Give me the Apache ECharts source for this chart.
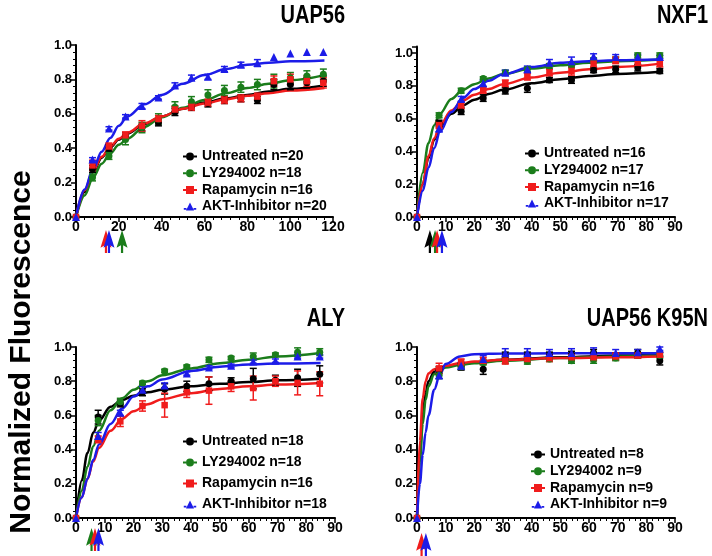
<!DOCTYPE html>
<html><head><meta charset="utf-8">
<script src="https://cdn.jsdelivr.net/npm/echarts@6/dist/echarts.min.js"></script>
<style>html,body{margin:0;padding:0;background:#fff}#c{width:712px;height:556px}</style>
</head><body><div id="c"></div>
<script>
// ---------- DATA ----------
const groups = ['Untreated', 'LY294002', 'Rapamycin', 'AKT-Inhibitor'];
const panelTitles = ['UAP56', 'NXF1', 'ALY', 'UAP56 K95N'];
const nUAP56 = [20, 18, 16, 20];
const nNXF1 = [16, 17, 16, 17];
const nALY = [18, 18, 16, 18];
const nK95N = [8, 9, 9, 9];

const timeLong = [0, 7.7, 15.4, 23.1, 30.8, 38.5, 46.2, 53.9, 61.6, 69.3, 77, 84.7, 92.4, 100.1, 107.8, 115.5];
const timeShort = [0, 7.7, 15.4, 23.1, 30.8, 38.5, 46.2, 53.9, 61.6, 69.3, 77, 84.7];

// UAP56
const uapUnt  = [0, 0.28, 0.40, 0.47, 0.52, 0.55, 0.61, 0.64, 0.66, 0.68, 0.69, 0.68, 0.77, 0.77, 0.78, 0.79];
const uapLY   = [0, 0.23, 0.355, 0.45, 0.52, 0.57, 0.64, 0.67, 0.71, 0.735, 0.755, 0.77, 0.79, 0.81, 0.82, 0.83];
const uapRapa = [0, 0.30, 0.41, 0.475, 0.53, 0.57, 0.625, 0.64, 0.665, 0.68, 0.69, 0.70, 0.79, 0.80, 0.79, 0.78];
const uapAKT  = [0, 0.335, 0.515, 0.585, 0.645, 0.695, 0.765, 0.81, 0.815, 0.86, 0.885, 0.895, 0.93, 0.95, 0.96, 0.96];
const uapUntErr  = [0, 0.02, 0.02, 0.02, 0.02, 0.02, 0.02, 0.02, 0.02, 0.02, 0.02, 0.02, 0.03, 0.03, 0.03, 0.03];
const uapLYErr   = [0, 0.02, 0.02, 0.03, 0.03, 0.03, 0.03, 0.03, 0.03, 0.03, 0.03, 0.03, 0.04, 0.03, 0.03, 0.03];
const uapRapaErr = [0, 0.03, 0.02, 0.02, 0.03, 0.02, 0.02, 0.02, 0.02, 0.02, 0.02, 0.02, 0.03, 0.03, 0.03, 0.03];
const uapAKTErr  = [0, 0.01, 0.01, 0.01, 0.015, 0.01, 0.015, 0.015, 0.015, 0.015, 0.015, 0.02, 0, 0, 0, 0];
const uapFitX    = [0, 4, 8, 12, 16, 20, 24, 32, 40, 50, 60, 70, 80, 90, 100, 116];
const uapFitUnt  = [0, 0.145, 0.26, 0.345, 0.405, 0.45, 0.485, 0.54, 0.585, 0.63, 0.665, 0.69, 0.71, 0.73, 0.745, 0.765];
const uapFitLY   = [0, 0.125, 0.23, 0.31, 0.37, 0.42, 0.455, 0.525, 0.58, 0.635, 0.68, 0.72, 0.75, 0.775, 0.795, 0.825];
const uapFitRapa = [0, 0.155, 0.27, 0.35, 0.41, 0.455, 0.49, 0.545, 0.585, 0.63, 0.66, 0.685, 0.705, 0.72, 0.735, 0.75];
const uapFitAKT  = [0, 0.16, 0.28, 0.38, 0.46, 0.53, 0.585, 0.655, 0.71, 0.775, 0.825, 0.86, 0.885, 0.897, 0.905, 0.91];
const uapHalf = [null, 21.5, 14, 15.4];

// NXF1
const nxfUnt  = [0, 0.57, 0.645, 0.725, 0.77, 0.785, 0.835, 0.835, 0.895, 0.90, 0.91, 0.89];
const nxfLY   = [0, 0.62, 0.77, 0.845, 0.88, 0.90, 0.92, 0.925, 0.955, 0.96, 0.985, 0.985];
const nxfRapa = [0, 0.56, 0.68, 0.775, 0.815, 0.855, 0.88, 0.89, 0.935, 0.955, 0.94, 0.935];
const nxfAKT  = [0, 0.54, 0.72, 0.815, 0.88, 0.90, 0.94, 0.95, 0.98, 0.975, 0.975, 0.975];
const nxfUntErr  = [0, 0.02, 0.02, 0.02, 0.02, 0.025, 0.015, 0.02, 0.015, 0.02, 0.02, 0.015];
const nxfLYErr   = [0, 0.015, 0.015, 0.01, 0.015, 0.015, 0.015, 0.015, 0.015, 0.015, 0.015, 0.015];
const nxfRapaErr = [0, 0.02, 0.02, 0.02, 0.02, 0.02, 0.02, 0.025, 0.02, 0.02, 0.02, 0.02];
const nxfAKTErr  = [0, 0.02, 0.015, 0.02, 0.015, 0.02, 0.02, 0.025, 0.015, 0.015, 0.015, 0.01];
const nxfFitX    = [0, 2, 4, 6, 8, 12, 16, 20, 25, 30, 40, 50, 60, 70, 85];
const nxfFitUnt  = [0, 0.20, 0.36, 0.47, 0.545, 0.63, 0.68, 0.715, 0.75, 0.775, 0.815, 0.84, 0.86, 0.872, 0.885];
const nxfFitLY   = [0, 0.27, 0.45, 0.56, 0.63, 0.72, 0.775, 0.81, 0.845, 0.87, 0.905, 0.925, 0.94, 0.95, 0.96];
const nxfFitRapa = [0, 0.20, 0.37, 0.48, 0.56, 0.65, 0.71, 0.745, 0.78, 0.81, 0.85, 0.88, 0.90, 0.915, 0.935];
const nxfFitAKT  = [0, 0.16, 0.30, 0.42, 0.52, 0.64, 0.725, 0.78, 0.83, 0.87, 0.915, 0.94, 0.95, 0.955, 0.96];
const nxfHalf = [4.5, 6.3, 7, 8.7];

// ALY
const alyUnt  = [0, 0.59, 0.67, 0.735, 0.755, 0.77, 0.785, 0.80, 0.815, 0.805, 0.82, 0.84];
const alyLY   = [0, 0.57, 0.68, 0.79, 0.86, 0.885, 0.925, 0.935, 0.945, 0.955, 0.97, 0.97];
const alyRapa = [0, 0.46, 0.565, 0.655, 0.66, 0.735, 0.745, 0.77, 0.76, 0.80, 0.79, 0.785];
const alyAKT  = [0, 0.48, 0.615, 0.75, 0.775, 0.845, 0.88, 0.89, 0.915, 0.92, 0.945, 0.945];
const alyUntErr  = [0, 0.04, 0.02, 0.02, 0.03, 0.03, 0.04, 0.02, 0.06, 0.03, 0.05, 0.05];
const alyLYErr   = [0, 0.03, 0.02, 0.01, 0.01, 0.01, 0.015, 0.01, 0.02, 0.01, 0.025, 0.02];
const alyRapaErr = [0, 0.02, 0.03, 0.03, 0.07, 0.03, 0.08, 0.03, 0.07, 0.03, 0.07, 0.07];
const alyAKTErr  = [0, 0.02, 0.015, 0.02, 0.015, 0.01, 0.01, 0.01, 0.01, 0.01, 0.01, 0.01];
const alyFitX    = [0, 2, 4, 6, 8, 12, 16, 20, 25, 30, 40, 50, 60, 70, 85];
const alyFitUnt  = [0, 0.22, 0.38, 0.50, 0.57, 0.65, 0.69, 0.715, 0.735, 0.75, 0.77, 0.785, 0.795, 0.805, 0.815];
const alyFitLY   = [0, 0.16, 0.30, 0.42, 0.51, 0.63, 0.70, 0.75, 0.80, 0.835, 0.875, 0.905, 0.925, 0.945, 0.965];
const alyFitRapa = [0, 0.12, 0.23, 0.33, 0.41, 0.51, 0.58, 0.625, 0.665, 0.695, 0.73, 0.755, 0.77, 0.78, 0.79];
const alyFitAKT  = [0, 0.12, 0.23, 0.34, 0.43, 0.55, 0.64, 0.71, 0.77, 0.81, 0.86, 0.885, 0.898, 0.903, 0.906];
const alyHalf = [null, 5.4, 6.6, 7.8];

// UAP56 K95N
const kUnt  = [0, 0.865, 0.885, 0.87, 0.95, 0.95, 0.95, 0.955, 0.965, 0.945, 0.965, 0.92];
const kLY   = [0, 0.835, 0.885, 0.91, 0.92, 0.915, 0.93, 0.92, 0.925, 0.935, 0.95, 0.95];
const kRapa = [0, 0.875, 0.91, 0.92, 0.92, 0.93, 0.935, 0.94, 0.94, 0.945, 0.95, 0.955];
const kAKT  = [0, 0.835, 0.89, 0.93, 0.965, 0.965, 0.965, 0.965, 0.975, 0.965, 0.97, 0.99];
const kUntErr  = [0, 0.02, 0.02, 0.03, 0.02, 0.02, 0.02, 0.02, 0.02, 0.02, 0.02, 0.025];
const kLYErr   = [0, 0.02, 0.015, 0.015, 0.015, 0.015, 0.015, 0.015, 0.02, 0.015, 0.015, 0.015];
const kRapaErr = [0, 0.03, 0.02, 0.02, 0.02, 0.02, 0.02, 0.02, 0.02, 0.02, 0.015, 0.015];
const kAKTErr  = [0, 0.02, 0.02, 0.02, 0.025, 0.025, 0.02, 0.025, 0.02, 0.02, 0.015, 0.01];
const kFitX    = [0, 1, 2, 3, 4, 6, 8, 10, 15, 20, 30, 50, 70, 85];
const kFitUnt  = [0, 0.37, 0.60, 0.73, 0.80, 0.855, 0.875, 0.885, 0.90, 0.91, 0.925, 0.94, 0.95, 0.955];
const kFitLY   = [0, 0.33, 0.55, 0.69, 0.77, 0.84, 0.865, 0.88, 0.895, 0.905, 0.92, 0.935, 0.945, 0.95];
const kFitRapa = [0, 0.45, 0.70, 0.80, 0.845, 0.87, 0.88, 0.89, 0.905, 0.915, 0.925, 0.935, 0.94, 0.945];
const kFitAKT  = [0, 0.20, 0.37, 0.50, 0.60, 0.75, 0.84, 0.90, 0.945, 0.958, 0.962, 0.963, 0.963, 0.963];
const kHalf = [null, null, 1.6, 3.1];

// ---------- STYLE / LAYOUT ----------
const FONT = "'Liberation Sans', Arial, Helvetica, sans-serif";
const COLORS = ['#000000', '#1b7d1b', '#f01c1c', '#1c1ce8'];
const SYMBOLS = ['circle', 'circle', 'rect', 'triangle'];
const ICONS = [
  'path://M0,4 L3,4 L3,6 L0,6 Z M11,4 L14,4 L14,6 L11,6 Z M3,5 A4,4 0 1,1 11,5 A4,4 0 1,1 3,5 Z',
  'path://M0,4 L3,4 L3,6 L0,6 Z M11,4 L14,4 L14,6 L11,6 Z M3,5 A4,4 0 1,1 11,5 A4,4 0 1,1 3,5 Z',
  'path://M0,4 L3,4 L3,6 L0,6 Z M11,4 L14,4 L14,6 L11,6 Z M3,1 L11,1 L11,9 L3,9 Z',
  'path://M0,6 L3,6 L3,8 L0,8 Z M11,6 L14,6 L14,8 L11,8 Z M7,0 L11.5,9 L2.5,9 Z'
];
const ARROW = 'path://M5,0 L10,17 L6,14.5 L6,22 L4,22 L4,14.5 L0,17 Z';

const panels = [
  { t: timeLong, vals: [uapUnt, uapLY, uapRapa, uapAKT], errs: [uapUntErr, uapLYErr, uapRapaErr, uapAKTErr],
    fx: uapFitX, fits: [uapFitUnt, uapFitLY, uapFitRapa, uapFitAKT], n: nUAP56, half: uapHalf,
    xmax: 120, xint: 20, ymax: 1.0, grid: { left: 76, top: 45, width: 257, height: 172 }, arrowTop: 230,
    legend: { left: 183, top: 149, gap: 1.7 }, title: { x: 345, y: 16 } },
  { t: timeShort, vals: [nxfUnt, nxfLY, nxfRapa, nxfAKT], errs: [nxfUntErr, nxfLYErr, nxfRapaErr, nxfAKTErr],
    fx: nxfFitX, fits: [nxfFitUnt, nxfFitLY, nxfFitRapa, nxfFitAKT], n: nNXF1, half: nxfHalf,
    xmax: 90, xint: 10, ymax: 1.04, grid: { left: 417, top: 46.4, width: 258, height: 170.6 }, arrowTop: 230,
    legend: { left: 525, top: 146, gap: 1.7 }, title: { x: 708, y: 16 } },
  { t: timeShort, vals: [alyUnt, alyLY, alyRapa, alyAKT], errs: [alyUntErr, alyLYErr, alyRapaErr, alyAKTErr],
    fx: alyFitX, fits: [alyFitUnt, alyFitLY, alyFitRapa, alyFitAKT], n: nALY, half: alyHalf,
    xmax: 90, xint: 10, ymax: 1.0, grid: { left: 76, top: 347, width: 259, height: 171 }, arrowTop: 528,
    legend: { left: 183, top: 434, gap: 6 }, title: { x: 345, y: 319 } },
  { t: timeShort, vals: [kUnt, kLY, kRapa, kAKT], errs: [kUntErr, kLYErr, kRapaErr, kAKTErr],
    fx: kFitX, fits: [kFitUnt, kFitLY, kFitRapa, kFitAKT], n: nK95N, half: kHalf,
    xmax: 90, xint: 10, ymax: 1.0, grid: { left: 417, top: 347, width: 258, height: 171 }, arrowTop: 533,
    legend: { left: 531, top: 447, gap: 1.7 }, title: { x: 708, y: 319 } }
];

const grid = [], xAxis = [], yAxis = [], series = [], legend = [], graphic = [];

panels.forEach((p, i) => {
  grid.push(Object.assign({ containLabel: false }, p.grid));
  xAxis.push({
    type: 'value', gridIndex: i, min: 0, max: p.xmax, interval: p.xint,
    splitLine: { show: false },
    axisLine: { show: true, onZero: false, lineStyle: { color: '#000', width: 2 } },
    axisTick: { show: true, length: 5, lineStyle: { color: '#000', width: 1.5 } },
    minorTick: { show: true, splitNumber: 5, length: 3, lineStyle: { color: '#000', width: 1 } },
    axisLabel: { color: '#000', fontWeight: 'bold', fontSize: 14, fontFamily: FONT, margin: 3 }
  });
  yAxis.push({
    type: 'value', gridIndex: i, min: 0, max: p.ymax, interval: 0.2,
    splitLine: { show: false },
    axisLine: { show: true, onZero: false, lineStyle: { color: '#000', width: 2 } },
    axisTick: { show: true, length: 5, lineStyle: { color: '#000', width: 1.5 } },
    minorTick: { show: true, splitNumber: 5, length: 3, lineStyle: { color: '#000', width: 1 } },
    axisLabel: { color: '#000', fontWeight: 'bold', fontSize: 13, fontFamily: FONT, margin: 4,
      formatter: v => (v > 1.001 ? '' : v.toFixed(1)) }
  });
  graphic.push({
    type: 'text', x: p.title.x, y: p.title.y, scaleX: 0.8, originX: 0, originY: 0,
    style: { text: panelTitles[i], font: 'bold 25px ' + FONT, fill: '#000', align: 'right', verticalAlign: 'middle' }
  });

  const names = groups.map((g, k) => g + ' n=' + p.n[k]);
  legend.push({
    orient: 'vertical', left: p.legend.left, top: p.legend.top, itemGap: p.legend.gap,
    itemWidth: 14, itemHeight: 8, padding: 0, selectedMode: false,
    data: names.map((nm, k) => ({ name: nm, icon: ICONS[k] })),
    textStyle: { color: '#000', fontWeight: 'bold', fontSize: 14, fontFamily: FONT, lineHeight: 15 }
  });

  groups.forEach((g, k) => {
    const c = COLORS[k];
    series.push({
      type: 'line', xAxisIndex: i, yAxisIndex: i, silent: true, showSymbol: false, symbol: 'none',
      smooth: 0.35, smoothMonotone: 'x', z: 2,
      data: p.fx.map((x, j) => [x, p.fits[k][j]]),
      lineStyle: { color: c, width: 2.5 }, itemStyle: { color: c }
    });
    series.push({
      type: 'custom', xAxisIndex: i, yAxisIndex: i, silent: true, z: 3, clip: false,
      encode: { x: 0, y: 1 },
      data: p.t.map((x, j) => [x, p.vals[k][j], p.errs[k][j]]),
      renderItem: (params, api) => {
        const x = api.value(0), y = api.value(1), e = api.value(2);
        if (!e) return null;
        const a = api.coord([x, y + e]), b = api.coord([x, y - e]);
        const hw = 3.5, st = { stroke: c, lineWidth: 1.5 };
        return { type: 'group', children: [
          { type: 'line', shape: { x1: a[0], y1: a[1], x2: b[0], y2: b[1] }, style: st },
          { type: 'line', shape: { x1: a[0] - hw, y1: a[1], x2: a[0] + hw, y2: a[1] }, style: st },
          { type: 'line', shape: { x1: b[0] - hw, y1: b[1], x2: b[0] + hw, y2: b[1] }, style: st }
        ] };
      }
    });
    series.push({
      name: names[k], type: 'scatter', xAxisIndex: i, yAxisIndex: i, z: 4, clip: false,
      symbol: SYMBOLS[k], symbolSize: k === 3 ? 8 : (k === 2 ? 6.5 : 7),
      data: p.t.map((x, j) => [x, p.vals[k][j]]),
      itemStyle: { color: c, opacity: 1 }
    });
  });
});

// half-time arrow rows under each x axis
panels.forEach((p, i) => {
  const gi = 4 + i;
  grid.push({ left: p.grid.left, width: p.grid.width, top: p.arrowTop, height: 23 });
  xAxis.push({ type: 'value', gridIndex: gi, min: 0, max: p.xmax, show: false });
  yAxis.push({ type: 'value', gridIndex: gi, min: 0, max: 1, show: false });
  groups.forEach((g, k) => {
    if (p.half[k] == null) return;
    series.push({
      type: 'scatter', xAxisIndex: gi, yAxisIndex: gi, silent: true, clip: false,
      symbol: ARROW, symbolSize: [11, 23], data: [[p.half[k], 0.5]],
      itemStyle: { color: COLORS[k], opacity: 1 }
    });
  });
});

graphic.push({
  type: 'text', x: 22, y: 352, rotation: Math.PI / 2,
  style: { text: 'Normalized Fluorescence', font: 'bold 30px ' + FONT, fill: '#000',
    align: 'center', verticalAlign: 'middle' }
});

const chart = echarts.init(document.getElementById('c'), null, { renderer: 'canvas' });
chart.setOption({
  animation: false,
  backgroundColor: '#fff',
  grid, xAxis, yAxis, series, legend, graphic
});
</script></body></html>
